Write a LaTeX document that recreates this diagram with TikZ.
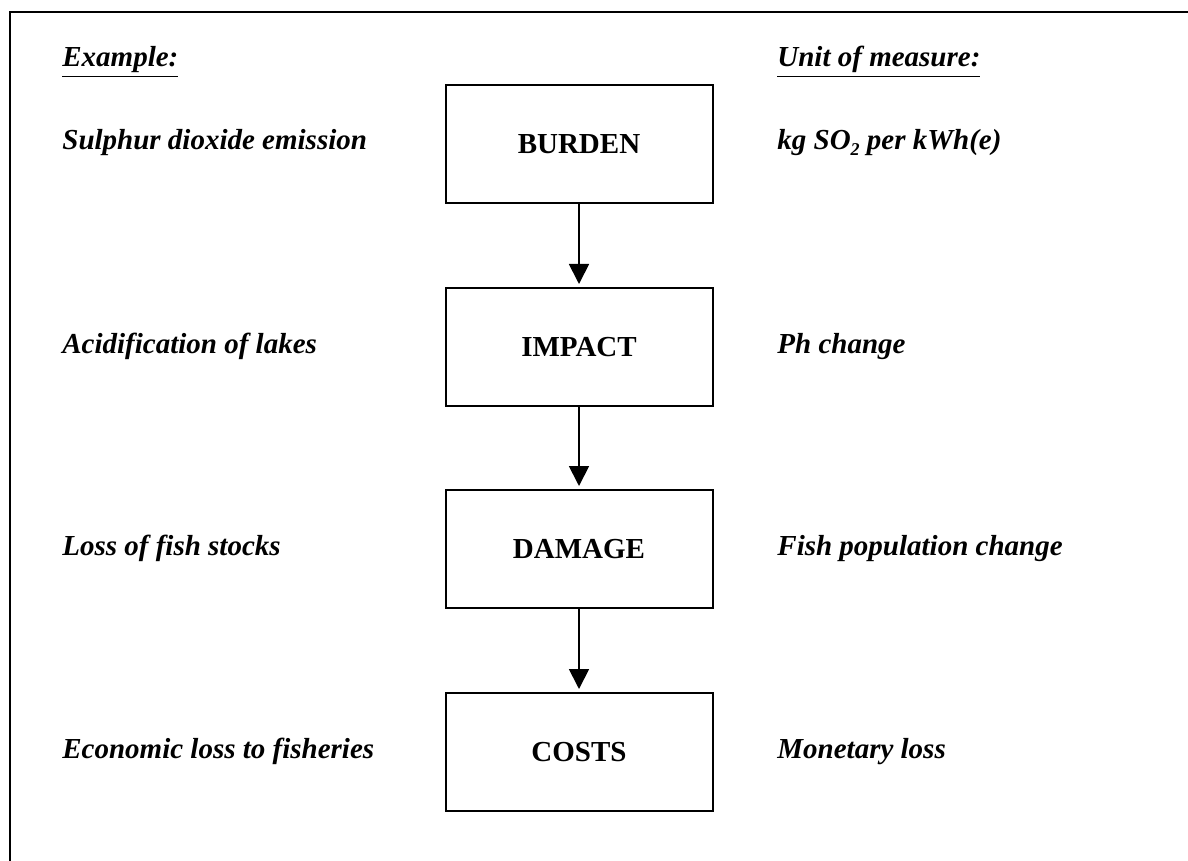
\documentclass[tikz,border=0pt]{standalone}
\usepackage{fontspec}
\setmainfont{Liberation Serif}
\usetikzlibrary{arrows.meta}
\begin{document}
\begin{tikzpicture}[x=0.5pt,y=-0.5pt,
  stage/.style={draw, line width=1pt, minimum width=133.5pt, minimum height=59pt,
    inner sep=0pt, font=\fontsize{14.5}{17}\selectfont\bfseries},
  side/.style={anchor=base west, inner sep=0pt,
    font=\fontsize{14.5}{17}\selectfont\bfseries\itshape},
  flow/.style={line width=0.9pt, -{Triangle[width=10pt,length=10pt]}, shorten >=1.5pt}]
\useasboundingbox (0,0) rectangle (1188,861);
% outer frame
\draw[line width=1.2pt] (10,861) -- (10,12) -- (1188,12);

% column headings
\node[side] (hex) at (62,67) {\underline{Example:}};
\node[side] (hun) at (777,67) {\underline{Unit of measure:}};

% chain of stages
\node[stage] (burden) at (579,144) {BURDEN};
\node[stage] (impact) at (579,347) {IMPACT};
\node[stage] (damage) at (579,549) {DAMAGE};
\node[stage] (costs)  at (579,752) {COSTS};

\draw[flow] (burden) -- (impact);
\draw[flow] (impact) -- (damage);
\draw[flow] (damage) -- (costs);

% examples
\node[side] (ex1) at (62,150) {Sulphur dioxide emission};
\node[side] (ex2) at (62,353) {Acidification of lakes};
\node[side] (ex3) at (62,555) {Loss of fish stocks};
\node[side] (ex4) at (62,758) {Economic loss to fisheries};

% units
\node[side] (un1) at (777,150) {kg SO\raisebox{-3pt}{\fontsize{9}{10}\selectfont 2} per kWh(e)};
\node[side] (un2) at (777,353) {Ph change};
\node[side] (un3) at (777,555) {Fish population change};
\node[side] (un4) at (777,758) {Monetary loss};
\end{tikzpicture}
\end{document}
